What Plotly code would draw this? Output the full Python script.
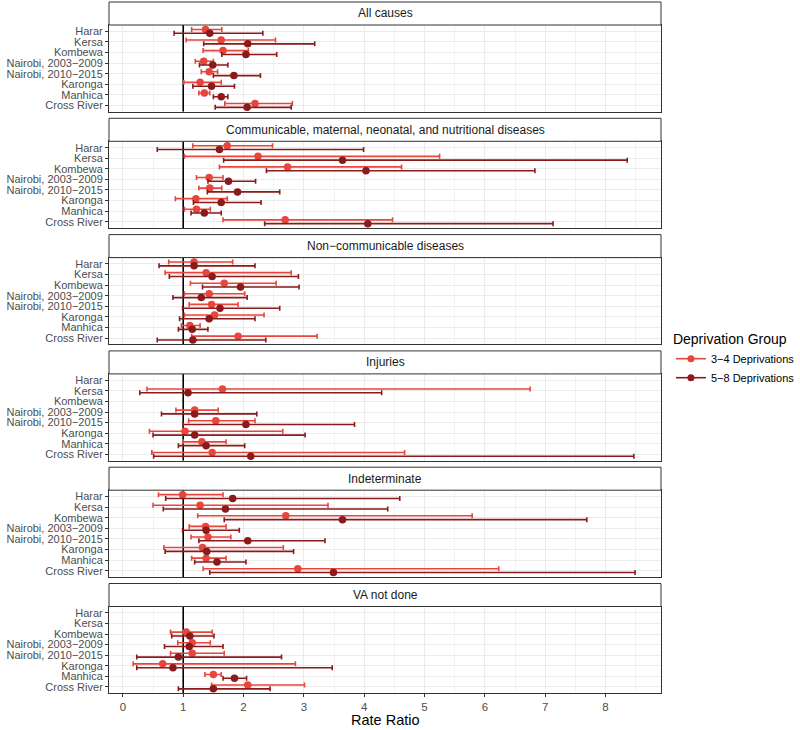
import plotly.graph_objects as go

sites = ["Harar", "Kersa", "Kombewa", "Nairobi, 2003−2009", "Nairobi, 2010−2015",
         "Karonga", "Manhica", "Cross River"]
panels = ["All causes",
          "Communicable, maternal, neonatal, and nutritional diseases",
          "Non−communicable diseases",
          "Injuries",
          "Indeterminate",
          "VA not done"]
groups = ["3−4 Deprivations", "5−8 Deprivations"]
N = None

# ---- estimates (rate ratio, lower, upper), one list per panel, order = sites ----
# 3-4 deprivations
rr34 = [
    [1.37, 1.63, 1.66, 1.34, 1.43, 1.28, 1.35, 2.19],
    [1.73, 2.24, 2.73, 1.43, 1.44, 1.21, 1.22, 2.69],
    [1.18, 1.38, 1.68, 1.43, 1.47, 1.52, 1.11, 1.91],
    [N, 1.65, N, 1.19, 1.54, 1.03, 1.31, 1.48],
    [0.99, 1.28, 2.70, 1.37, 1.41, 1.32, 1.38, 2.90],
    [N, N, 1.05, 1.15, 1.15, 0.66, 1.50, 2.07],
]
lo34 = [
    [1.14, 1.05, 1.33, 1.20, 1.30, 1.01, 1.26, 1.69],
    [1.16, 1.02, 1.60, 1.22, 1.26, 0.87, 1.02, 1.66],
    [0.76, 0.70, 1.12, 1.02, 1.10, 1.02, 0.97, 1.14],
    [N, 0.40, N, 0.88, 1.09, 0.44, 1.00, 0.48],
    [0.59, 0.50, 1.24, 1.10, 1.13, 0.68, 1.14, 1.33],
    [N, N, 0.79, 0.91, 0.79, 0.17, 1.36, 1.47],
]
hi34 = [
    [1.64, 2.53, 2.08, 1.50, 1.57, 1.63, 1.44, 2.81],
    [2.48, 5.25, 4.62, 1.66, 1.64, 1.73, 1.45, 4.47],
    [1.82, 2.79, 2.54, 2.02, 1.91, 2.34, 1.28, 3.22],
    [N, 6.75, N, 1.58, 2.19, 2.65, 1.71, 4.67],
    [1.66, 3.40, 5.79, 1.71, 1.79, 2.66, 1.71, 6.23],
    [N, N, 1.48, 1.45, 1.68, 2.86, 1.63, 3.01],
]
# 5-8 deprivations
rr58 = [
    [1.44, 2.07, 2.04, 1.49, 1.84, 1.47, 1.63, 2.06],
    [1.60, 3.64, 4.03, 1.75, 1.90, 1.63, 1.35, 4.06],
    [1.18, 1.48, 1.95, 1.30, 1.61, 1.43, 1.15, 1.16],
    [N, 1.08, N, 1.19, 2.04, 1.19, 1.38, 2.12],
    [1.82, 1.70, 3.64, 1.38, 2.07, 1.39, 1.56, 3.49],
    [N, N, 1.11, 1.10, 0.92, 0.83, 1.85, 1.50],
]
lo58 = [
    [0.85, 1.34, 1.64, 1.27, 1.50, 1.16, 1.50, 1.53],
    [0.57, 1.67, 2.38, 1.41, 1.40, 1.17, 1.13, 2.35],
    [0.60, 0.77, 1.32, 0.83, 0.99, 0.94, 0.92, 0.57],
    [N, 0.28, N, 0.64, 1.00, 0.50, 0.92, 0.51],
    [0.71, 0.67, 1.68, 0.99, 1.26, 0.70, 1.19, 1.44],
    [N, N, 0.81, 0.69, 0.23, 0.23, 1.66, 0.92],
]
hi58 = [
    [2.32, 3.18, 2.55, 1.74, 2.28, 1.85, 1.74, 2.79],
    [3.99, 8.36, 6.83, 2.20, 2.60, 2.29, 1.63, 7.13],
    [2.19, 2.91, 2.92, 2.06, 2.60, 2.19, 1.41, 2.37],
    [N, 4.29, N, 2.22, 3.84, 3.02, 2.02, 8.47],
    [4.59, 4.39, 7.69, 1.93, 3.35, 2.83, 2.04, 8.49],
    [N, N, 1.51, 1.66, 2.63, 3.47, 2.05, 2.44],
]

x_ticks = [0, 1, 2, 3, 4, 5, 6, 7, 8]
ref_line = 1

colors = ["#E8453C", "#8B1A1A"]
dodge = [-0.18, 0.18]

W, Hh = 800, 730
ML, MR, MT, MB = 109, 139, 2, 36
H = Hh - MT - MB
STRIP, PANEL, GAP = 23, 86.8, 6.5


def py(p):
    return (Hh - MB - p) / H


fig = go.Figure()
shapes, annots = [], []
font_fam = "Liberation Sans, Arial, Helvetica, sans-serif"
nsite = len(sites)

for i, name in enumerate(panels):
    top = MT + i * (STRIP + PANEL + GAP)
    sb = top + STRIP
    pb = sb + PANEL
    ax = "" if i == 0 else str(i + 1)
    last = i == len(panels) - 1
    # reference line at rate ratio = 1
    fig.add_trace(go.Scatter(x=[ref_line, ref_line], y=[0.4, nsite + 0.6], mode="lines",
                             xaxis="x" + ax, yaxis="y" + ax,
                             line=dict(color="black", width=1.6),
                             showlegend=False, hoverinfo="skip"))
    for g, (rr, lo, hi) in enumerate([(rr34, lo34, hi34), (rr58, lo58, hi58)]):
        xs, ys, ep, em = [], [], [], []
        for k in range(nsite):
            v = rr[i][k]
            xs.append(v)
            ys.append(k + 1 + dodge[g])
            ep.append(None if v is None else hi[i][k] - v)
            em.append(None if v is None else v - lo[i][k])
        fig.add_trace(go.Scatter(
            x=xs, y=ys, mode="markers", xaxis="x" + ax, yaxis="y" + ax,
            marker=dict(color=colors[g], size=7.5),
            error_x=dict(type="data", array=ep, arrayminus=em, symmetric=False,
                         color=colors[g], thickness=1.6, width=2.5),
            showlegend=False, hoverinfo="x+y"))
    xa = dict(
        domain=[0, 1], anchor="y" + ax, range=[-0.23, 8.92], automargin=False,
        tickvals=x_ticks, showticklabels=last,
        ticks="outside" if last else "", ticklen=3,
        tickcolor="#333333", tickfont=dict(size=11.5, color="#4D4D4D", family=font_fam),
        showgrid=True, gridcolor="#EBEBEB", gridwidth=1,
        minor=dict(dtick=0.5, tick0=0, showgrid=True, gridcolor="#F3F3F3", gridwidth=0.6),
        showline=True, mirror=True, linecolor="#333333", linewidth=1, zeroline=False)
    if i > 0:
        xa["matches"] = "x"
    fig.layout["xaxis" + ax] = xa
    fig.layout["yaxis" + ax] = dict(
        domain=[py(pb), py(sb)], anchor="x" + ax, range=[nsite + 0.6, 0.4], automargin=False,
        tickvals=list(range(1, nsite + 1)), ticktext=sites,
        ticks="outside", ticklen=3, tickcolor="#333333",
        tickfont=dict(size=11, color="#4D4D4D", family=font_fam),
        showgrid=True, gridcolor="#EBEBEB", gridwidth=1,
        showline=True, mirror=True, linecolor="#333333", linewidth=1, zeroline=False)
    # strip
    shapes.append(dict(type="rect", xref="paper", yref="paper", x0=0, x1=1,
                       y0=py(sb), y1=py(top), fillcolor="white",
                       line=dict(color="#333333", width=1), layer="above"))
    annots.append(dict(text=name, xref="paper", yref="paper", x=0.5,
                       y=py((top + sb) / 2), showarrow=False, xanchor="center",
                       yanchor="middle", font=dict(size=12, color="#1A1A1A", family=font_fam)))

annots.append(dict(text="Rate Ratio", xref="paper", yref="paper", x=0.5, y=py(720),
                   showarrow=False, xanchor="center", yanchor="middle",
                   font=dict(size=14.5, color="black", family=font_fam)))

for g in range(2):
    fig.add_trace(go.Scatter(x=[None], y=[None], mode="lines+markers", name=groups[g],
                             line=dict(color=colors[g], width=1.6),
                             marker=dict(color=colors[g], size=7)))

fig.update_layout(
    width=W, height=Hh, margin=dict(l=ML, r=MR, t=MT, b=MB, pad=0, autoexpand=False),
    plot_bgcolor="white", paper_bgcolor="white", shapes=shapes, annotations=annots,
    font=dict(family=font_fam),
    legend=dict(x=1.018, xanchor="left", y=py(326), yanchor="top",
                title=dict(text="Deprivation Group", font=dict(size=14, color="black")),
                font=dict(size=11, color="black"), itemwidth=30, tracegroupgap=2,
                bgcolor="rgba(0,0,0,0)"),
)

fig.write_html("out.html", config={"displayModeBar": False},
               post_script="document.body.style.margin='0';document.body.style.overflow='hidden';")
